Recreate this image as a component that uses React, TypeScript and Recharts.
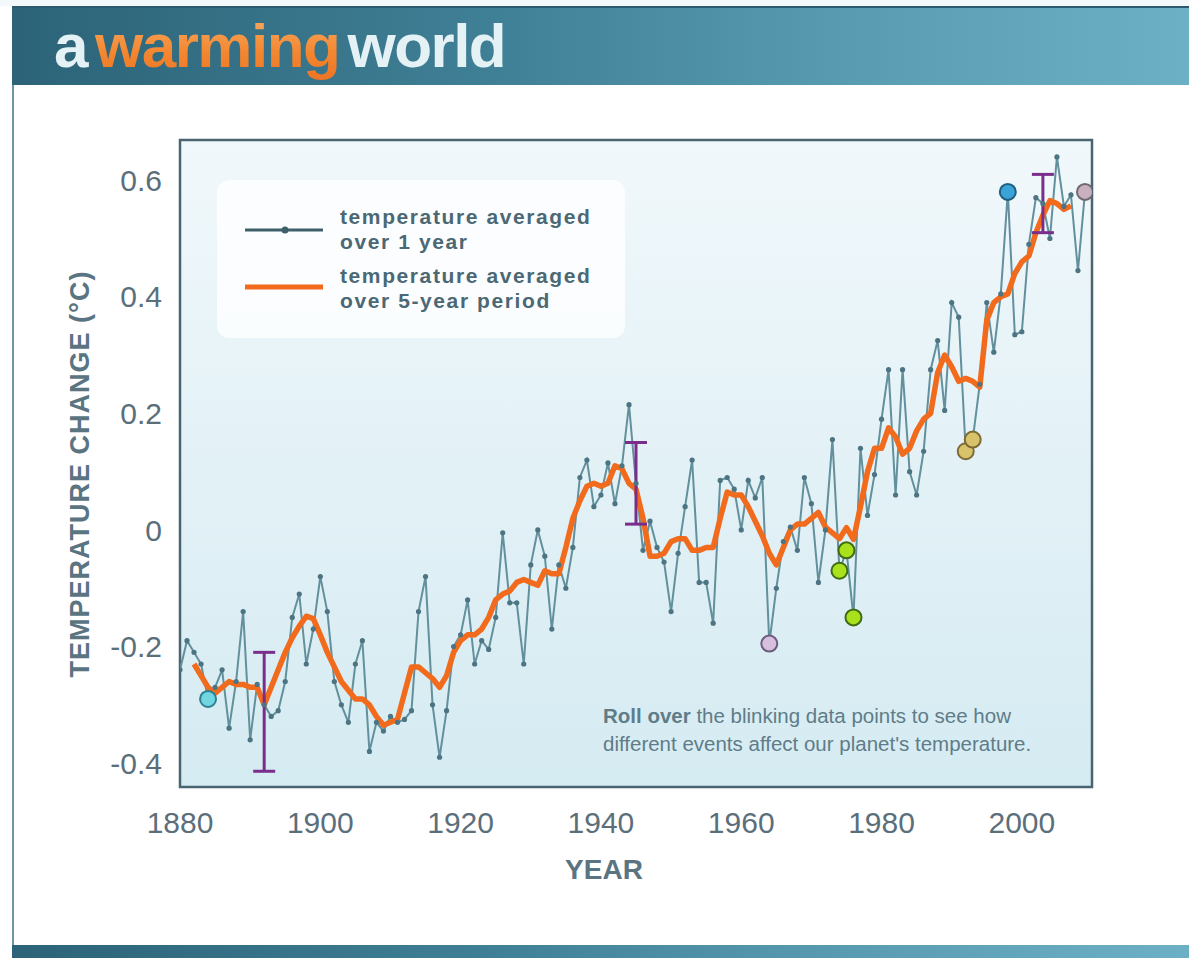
import React from "react";
import {
  ComposedChart,
  Line,
  Scatter,
  XAxis,
  YAxis,
  CartesianGrid,
  ReferenceArea,
  ErrorBar,
} from "recharts";

// ---------- data ----------
const START_YEAR = 1880;
// temperature averaged over 1 year (1880 .. 2009)
const annual: number[] = [
  -0.24, -0.19, -0.21, -0.23, -0.29, -0.27, -0.24, -0.34, -0.26, -0.14,
  -0.36, -0.265, -0.3, -0.32, -0.31, -0.26, -0.15, -0.11, -0.23, -0.17,
  -0.08, -0.14, -0.26, -0.3, -0.33, -0.23, -0.19, -0.38, -0.33, -0.345,
  -0.32, -0.33, -0.325, -0.31, -0.14, -0.08, -0.3, -0.39, -0.31, -0.2,
  -0.18, -0.12, -0.23, -0.19, -0.205, -0.15, -0.005, -0.125, -0.125, -0.23,
  -0.06, 0.0, -0.045, -0.17, -0.06, -0.1, -0.03, 0.09, 0.12, 0.04,
  0.06, 0.115, 0.045, 0.11, 0.215, 0.08, -0.035, 0.015, -0.03, -0.055,
  -0.14, -0.04, 0.04, 0.12, -0.09, -0.09, -0.16, 0.085, 0.09, 0.07,
  0.0, 0.085, 0.055, 0.09, -0.195, -0.1, -0.02, 0.005, -0.035, 0.09,
  0.045, -0.09, 0.0, 0.155, -0.07, -0.035, -0.15, 0.14, 0.025, 0.095,
  0.19, 0.275, 0.06, 0.275, 0.1, 0.06, 0.135, 0.275, 0.325, 0.205,
  0.39, 0.365, 0.135, 0.155, 0.25, 0.39, 0.305, 0.405, 0.58, 0.335,
  0.34, 0.49, 0.57, 0.56, 0.5, 0.64, 0.555, 0.575, 0.445, 0.58,
];

// temperature averaged over 5-year period (1882 .. 2007)
const SMOOTH_START = 1882;
const smooth: number[] = [
  -0.23, -0.25, -0.27, -0.28, -0.27, -0.26, -0.265, -0.265,
  -0.27, -0.27, -0.3, -0.27, -0.24, -0.21, -0.185, -0.165, -0.148, -0.152,
  -0.18, -0.21, -0.235, -0.26, -0.275, -0.29, -0.29, -0.3, -0.32, -0.335,
  -0.33, -0.325, -0.28, -0.235, -0.235, -0.245, -0.255, -0.27, -0.25, -0.21,
  -0.19, -0.18, -0.18, -0.17, -0.15, -0.12, -0.11, -0.105, -0.09, -0.085,
  -0.09, -0.095, -0.07, -0.075, -0.075, -0.03, 0.02, 0.05, 0.075, 0.08,
  0.075, 0.08, 0.11, 0.105, 0.08, 0.07, 0.02, -0.045, -0.045, -0.04,
  -0.02, -0.015, -0.015, -0.035, -0.035, -0.03, -0.03, 0.02, 0.065, 0.06,
  0.06, 0.04, 0.015, -0.01, -0.04, -0.06, -0.03, 0.0, 0.01, 0.01,
  0.02, 0.03, 0.005, -0.005, -0.015, 0.004, -0.016, 0.04, 0.1, 0.14,
  0.14, 0.175, 0.16, 0.13, 0.14, 0.17, 0.19, 0.2, 0.27, 0.3,
  0.28, 0.255, 0.26, 0.255, 0.245, 0.36, 0.39, 0.4, 0.405, 0.44,
  0.46, 0.47, 0.51, 0.54, 0.565, 0.56, 0.55, 0.556,
];

// highlighted ("blinking") events
const eventYears: number[] = [1884, 1964, 1974, 1975, 1976, 1992, 1993, 1998, 2009];
const eventKinds: string[] = [
  "krakatoa", "agung", "cool", "cool", "cool", "pinatubo", "pinatubo", "elnino", "recent",
];

// uncertainty bars
const errYears: number[] = [1892, 1945, 2003];
const errCenter: number[] = [-0.312, 0.08, 0.56];
const errHalf: number[] = [0.102, 0.07, 0.05];

const xTicks: number[] = [1880, 1900, 1920, 1940, 1960, 1980, 2000];
const yTicks: number[] = [-0.4, -0.2, 0, 0.2, 0.4, 0.6];
const yTickLabels: string[] = ["-0.4", "-0.2", "0", "0.2", "0.4", "0.6"];

// ---------- derived tables ----------
const rows = annual.map((v, i) => {
  const year = START_YEAR + i;
  const si = year - SMOOTH_START;
  return {
    year,
    annual: v,
    smooth: si >= 0 && si < smooth.length ? smooth[si] : null,
  };
});

const eventData = eventYears.map((y, i) => ({
  year: y,
  v: annual[y - START_YEAR],
  kind: eventKinds[i],
}));

const errData = errYears.map((y, i) => ({
  year: y,
  v: errCenter[i],
  err: [errHalf[i], errHalf[i]],
}));

// ---------- styles ----------
const eventStyle: Record<string, { fill: string; stroke: string }> = {
  krakatoa: { fill: "#6fd6e2", stroke: "#2f7f90" },
  agung: { fill: "#d9bfdf", stroke: "#6d5d7a" },
  cool: { fill: "#a9e21c", stroke: "#3f6b14" },
  pinatubo: { fill: "#d9c36a", stroke: "#7d6b35" },
  elnino: { fill: "#3aa3d8", stroke: "#1f5f80" },
  recent: { fill: "#c9b0bd", stroke: "#6f6872" },
};

const FONT = '"Liberation Sans", Arial, Helvetica, sans-serif';
const AXIS_COLOR = "#5b6f7b";
const LABEL_COLOR = "#5a7482";

const EventDot = (props: any) => {
  const { cx, cy, payload } = props;
  if (cx == null || cy == null) return null;
  const s = eventStyle[payload.kind];
  return <circle cx={cx} cy={cy} r={8} fill={s.fill} stroke={s.stroke} strokeWidth={2} />;
};

const NoShape = () => <g />;

export default function App() {
  return (
    <div
      style={{
        position: "absolute",
        left: 0,
        top: 0,
        width: 1189,
        height: 958,
        background: "#ffffff",
        overflow: "hidden",
        fontFamily: FONT,
      }}
    >
      {/* top strip */}
      <div style={{ position: "absolute", left: 0, top: 0, width: 1189, height: 6, background: "#f3f8fa" }} />
      {/* header */}
      <div
        style={{
          position: "absolute",
          left: 12,
          top: 6,
          width: 1177,
          height: 79,
          background: "linear-gradient(90deg, #2c6378 0%, #3f7f95 40%, #5c9fb5 75%, #6cb0c5 100%)",
          borderTop: "2px solid #2a5a6c",
          boxSizing: "border-box",
        }}
      />
      <div
        style={{
          position: "absolute",
          left: 54,
          top: 11,
          height: 70,
          display: "flex",
          alignItems: "baseline",
          fontFamily: FONT,
          fontWeight: 700,
          fontSize: 62,
          letterSpacing: -1.5,
          lineHeight: "70px",
        }}
      >
        <span style={{ color: "#e4f1f5", marginRight: 8 }}>a</span>
        <span
          style={{
            marginRight: 8,
            background: "linear-gradient(180deg, #f8b06a 0%, #f3862f 60%, #ee7424 100%)",
            WebkitBackgroundClip: "text",
            backgroundClip: "text",
            color: "transparent",
          }}
        >
          warming
        </span>
        <span style={{ color: "#e4f1f5" }}>world</span>
      </div>

      {/* left frame line */}
      <div style={{ position: "absolute", left: 12, top: 85, width: 2, height: 860, background: "#6e97a5" }} />
      {/* bottom bar */}
      <div
        style={{
          position: "absolute",
          left: 12,
          top: 945,
          width: 1177,
          height: 13,
          background: "linear-gradient(90deg, #2c6378 0%, #3f7f95 40%, #5c9fb5 75%, #6cb0c5 100%)",
        }}
      />

      <div style={{ position: "absolute", left: 0, top: 0 }}>
        <ComposedChart
          width={1189}
          height={958}
          data={rows}
          margin={{ top: 140, right: 97, bottom: 111, left: 100 }}
        >
          <defs>
            <linearGradient id="plotBg" x1="0" y1="0" x2="0" y2="1">
              <stop offset="0%" stopColor="#f1f8fb" />
              <stop offset="100%" stopColor="#d5ebf2" />
            </linearGradient>
          </defs>
          <CartesianGrid horizontal={false} vertical={false} fill="url(#plotBg)" fillOpacity={1} stroke="none" />
          <XAxis
            dataKey="year"
            type="number"
            domain={[1880, 2010]}
            allowDataOverflow
            ticks={xTicks}
            tickLine={false}
            axisLine={false}
            tickSize={8}
            tickMargin={17}
            height={60}
            tick={{ fill: AXIS_COLOR, fontSize: 30, fontFamily: FONT }}
          />
          <YAxis
            type="number"
            domain={[-0.441, 0.669]}
            allowDataOverflow
            ticks={yTicks}
            tickFormatter={(v: number) => yTickLabels[yTicks.indexOf(v)] ?? String(v)}
            tickLine={false}
            axisLine={false}
            tickSize={8}
            tickMargin={10}
            width={80}
            tick={{ fill: AXIS_COLOR, fontSize: 30, fontFamily: FONT }}
          />
          <ReferenceArea
            x1={1880}
            x2={2010}
            y1={-0.441}
            y2={0.669}
            fill="none"
            stroke="#4a6470"
            strokeWidth={2.5}
            ifOverflow="visible"
          />
          <Line
            dataKey="annual"
            type="linear"
            stroke="#62909c"
            strokeWidth={2}
            dot={{ r: 2.6, fill: "#4d7482", stroke: "none" }}
            activeDot={false}
            isAnimationActive={false}
          />
          <Line
            dataKey="smooth"
            type="linear"
            stroke="#f26a1c"
            strokeWidth={5.5}
            strokeLinejoin="round"
            dot={false}
            activeDot={false}
            isAnimationActive={false}
          />
          <Scatter data={eventData} dataKey="v" shape={EventDot} isAnimationActive={false} />
          <Scatter data={errData} dataKey="v" shape={NoShape} isAnimationActive={false}>
            <ErrorBar dataKey="err" direction="y" width={11} stroke="#7b2d8c" strokeWidth={3} />
          </Scatter>
        </ComposedChart>
      </div>

      {/* y axis title */}
      <div
        style={{
          position: "absolute",
          left: 80,
          top: 474,
          transform: "translate(-50%, -50%) rotate(-90deg)",
          whiteSpace: "nowrap",
          color: LABEL_COLOR,
          fontWeight: 700,
          fontSize: 27,
          letterSpacing: 1,
          fontFamily: FONT,
        }}
      >
        TEMPERATURE CHANGE (°C)
      </div>

      {/* x axis title */}
      <div
        style={{
          position: "absolute",
          left: 604,
          top: 870,
          transform: "translate(-50%, -50%)",
          color: LABEL_COLOR,
          fontWeight: 700,
          fontSize: 28,
          fontFamily: FONT,
        }}
      >
        YEAR
      </div>

      {/* legend */}
      <div
        style={{
          position: "absolute",
          left: 217,
          top: 180,
          width: 408,
          height: 158,
          borderRadius: 12,
          background: "rgba(255,255,255,0.78)",
        }}
      />
      <svg style={{ position: "absolute", left: 240, top: 215 }} width={90} height={90}>
        <line x1={5} y1={15} x2={83} y2={15} stroke="#3f5f6a" strokeWidth={3} />
        <circle cx={45} cy={15} r={3.5} fill="#3f5f6a" />
        <line x1={5} y1={72} x2={83} y2={72} stroke="#f26a1c" strokeWidth={5} />
      </svg>
      <div
        style={{
          position: "absolute",
          left: 340,
          top: 204,
          color: "#4b6874",
          fontWeight: 700,
          fontSize: 21,
          letterSpacing: 1.6,
          lineHeight: "25px",
          fontFamily: FONT,
        }}
      >
        temperature averaged
        <br />
        over 1 year
      </div>
      <div
        style={{
          position: "absolute",
          left: 340,
          top: 263,
          color: "#4b6874",
          fontWeight: 700,
          fontSize: 21,
          letterSpacing: 1.6,
          lineHeight: "25px",
          fontFamily: FONT,
        }}
      >
        temperature averaged
        <br />
        over 5-year period
      </div>

      {/* note */}
      <div
        style={{
          position: "absolute",
          left: 603,
          top: 702,
          color: "#5f7c88",
          fontSize: 20.5,
          letterSpacing: 0,
          lineHeight: "28px",
          fontFamily: FONT,
        }}
      >
        <b>Roll over</b> the blinking data points to see how
        <br />
        different events affect our planet's temperature.
      </div>
    </div>
  );
}
